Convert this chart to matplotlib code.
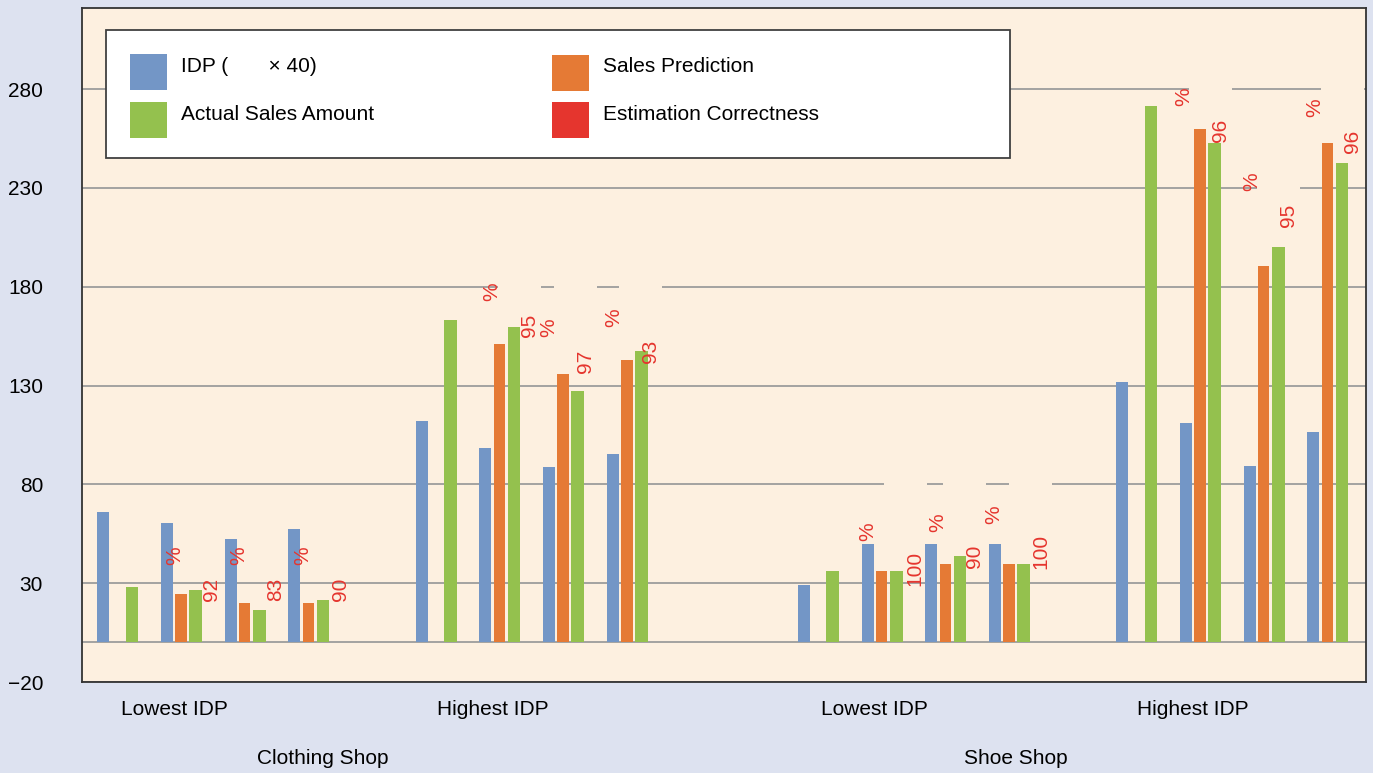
import numpy as np
import matplotlib.pyplot as plt
from matplotlib.patches import Rectangle

plt.rcParams['font.family'] = ['Liberation Sans', 'DejaVu Sans']

# four bars per IDP block; the first of every block has no prediction
idp = [65.8, 60.2, 52.1, 57.6,
       112.3, 98.6, 89.0, 95.6,
       29.3, 50.0, 50.0, 50.0,
       132.0, 110.8, 89.5, 106.7]
sales_pred = [np.nan, 24.3, 20.2, 20.2,
              np.nan, 151.2, 136.0, 143.0,
              np.nan, 36.4, 39.5, 39.5,
              np.nan, 260.0, 190.7, 252.5]
actual_sales = [28.3, 26.3, 16.2, 21.7,
                163.4, 159.8, 127.0, 147.7,
                36.4, 36.4, 44.0, 39.5,
                271.2, 252.5, 200.3, 242.7]
correctness = [None, 92, 83, 90,
               None, 95, 97, 93,
               None, 100, 90, 100,
               None, 96, 95, 96]

block_names = ["Lowest IDP", "Highest IDP", "Lowest IDP", "Highest IDP"]
shop_names = ["Clothing Shop", "Shoe Shop"]
y_ticks = [-20, 30, 80, 130, 180, 230, 280]

# colours
C_IDP = "#7396C6"
C_PRED = "#E57A35"
C_ACT = "#94C14E"
C_RED = "#E5352E"
BG_FIG = "#DDE2F0"
BG_AX = "#FDF0E0"
GRID = "#9C9C9C"

# slot index of the first bar group of each block
block_start = [0, 5, 11, 16]
slots = np.array([s + j for s in block_start for j in range(4)], dtype=float)

# pixel nudges of the percentage labels (from green bar centre / taller bar top)
label_nudge = [None, (16, 1), (16, 13), (17, 10),
               None, (15, 1), (8, 12), (9, -1),
               None, (19, 2), (15, -1), (17, 13),
               None, (6, -2), (10, 31), (10, 2)]

W, H = 1373, 773
fig = plt.figure(figsize=(W / 100, H / 100), dpi=100, facecolor=BG_FIG)
ax = fig.add_axes([82 / W, 1 - 682 / H, (1366 - 82) / W, (682 - 8) / H])
ax.set_facecolor(BG_AX)
ax.set_xlim(-0.554, 19.606)
ax.set_ylim(-20, 321)

idp = np.array(idp)
sales_pred = np.array(sales_pred)
actual_sales = np.array(actual_sales)

ax.bar(slots - 0.22, idp, width=0.19, color=C_IDP, zorder=2)
has_pred = ~np.isnan(sales_pred)
ax.bar(slots[has_pred], sales_pred[has_pred], width=0.18, color=C_PRED, zorder=2)
ax.bar(slots + 0.23, actual_sales, width=0.2, color=C_ACT, zorder=2)

# grid + zero line
ax.set_yticks(y_ticks)
ax.yaxis.grid(True, color=GRID, lw=1.3, zorder=0.5)
ax.set_axisbelow(True)
ax.axhline(0, color=GRID, lw=1.3, zorder=0.6)

ax.tick_params(axis='y', length=0, pad=28, labelsize=15)
ax.set_xticks([s + 0.89 for s in block_start], block_names)
ax.tick_params(axis='x', length=0, pad=13, labelsize=15)
for sp in ax.spines.values():
    sp.set_color("#333333")
    sp.set_linewidth(1.3)

for x, name in zip([3.23, 14.1], shop_names):
    ax.text(x, -0.113, name, transform=ax.get_xaxis_transform(),
            ha='center', va='center', fontsize=15)


def shift(x, y, dx, dy):
    px, py = ax.transData.transform((x, y))
    return ax.transData.inverted().transform((px + dx, py + dy))


# estimation correctness labels
for i, val in enumerate(correctness):
    if val is None:
        continue
    xg = slots[i] + 0.23
    top = np.nanmax([sales_pred[i], actual_sales[i]])
    dx, dy = label_nudge[i]
    txt = str(val)
    n = len(txt)
    ax.annotate(txt, (xg, top), xytext=(dx, dy), textcoords='offset pixels',
                rotation=90, ha='center', va='center', color=C_RED,
                fontsize=15, zorder=4)
    ax.annotate("%", (xg, top),
                xytext=(dx - 37 - 10 * (n - 2), dy + 33.5 + 3 * (n - 2)),
                textcoords='offset pixels', rotation=90, ha='center',
                va='center', color=C_RED, fontsize=15, zorder=4)
    # blank box above the number that breaks the grid lines
    half = 11.6 * n / 2
    x0, y0 = shift(xg, top, dx - 31.5, dy + half + 2)
    x1, y1 = shift(xg, top, dx + 11.5, dy + half + 78)
    ax.add_patch(Rectangle((x0, y0), x1 - x0, y1 - y0, facecolor=BG_AX,
                           edgecolor='none', zorder=1))


# legend box
def axfrac(px, py):
    return (px - 82) / 1284, (682 - py) / 674


lx0, ly0 = axfrac(106, 158)
lx1, ly1 = axfrac(1010, 30)
ax.add_patch(Rectangle((lx0, ly0), lx1 - lx0, ly1 - ly0, transform=ax.transAxes,
                       facecolor='white', edgecolor='#404040', lw=1.3, zorder=5))
entries = [(C_IDP, "IDP (       \u00d7 40)", 130, 54, 72),
           (C_PRED, "Sales Prediction", 552, 55, 72),
           (C_ACT, "Actual Sales Amount", 130, 102, 120),
           (C_RED, "Estimation Correctness", 552, 102, 120)]
for col, lab, px, py, base in entries:
    bx0, by0 = axfrac(px, py + 36)
    bx1, by1 = axfrac(px + 37, py)
    ax.add_patch(Rectangle((bx0, by0), bx1 - bx0, by1 - by0, transform=ax.transAxes,
                           facecolor=col, edgecolor='none', zorder=6))
    tx, ty = axfrac(px + 51, base)
    ax.text(tx, ty, lab, transform=ax.transAxes, ha='left', va='baseline',
            fontsize=15, zorder=6)

fig.savefig("out.png", dpi=100, facecolor=BG_FIG)
